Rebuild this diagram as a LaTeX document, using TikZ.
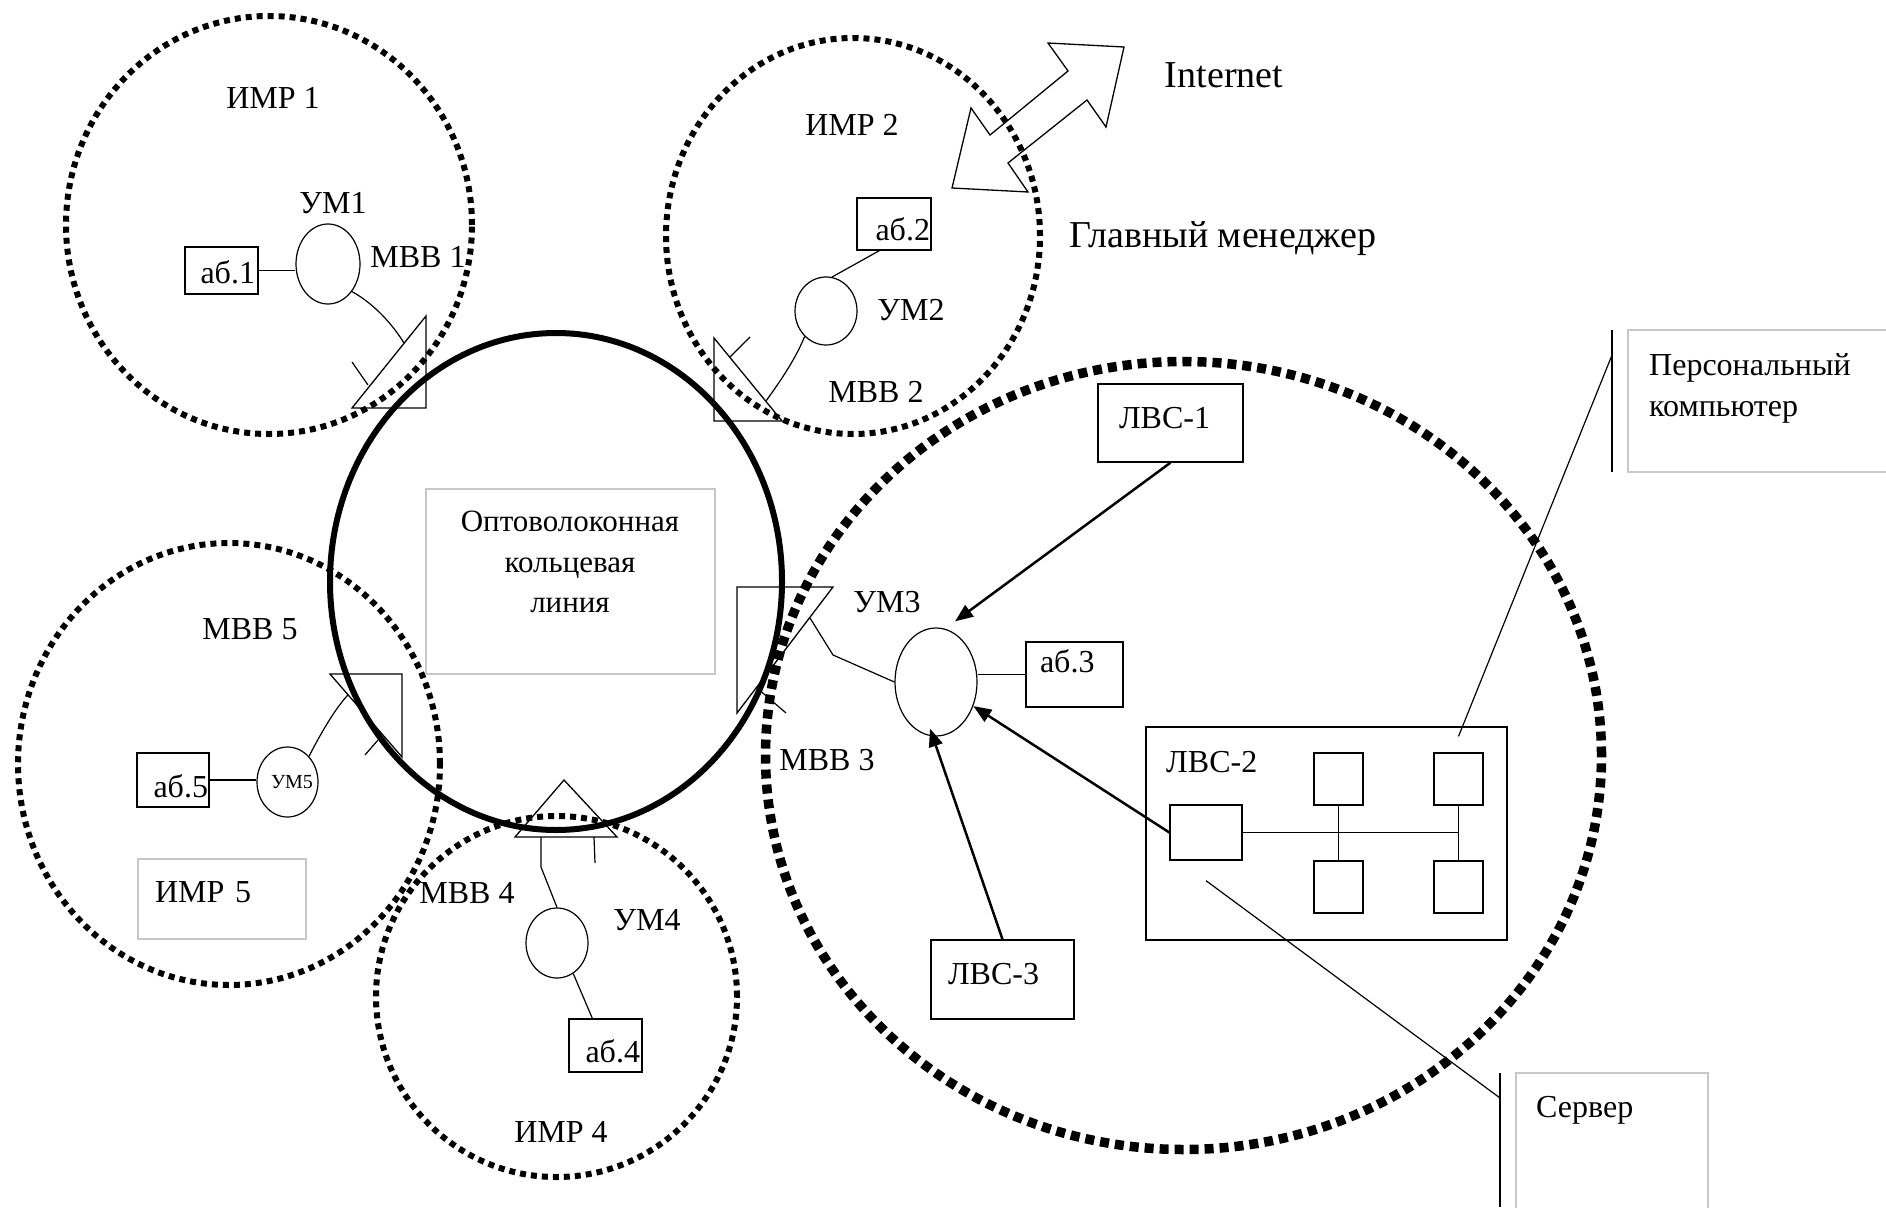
\documentclass[tikz,border=0pt]{standalone}
\usepackage{fontspec}
\setmainfont{Liberation Serif}
\usetikzlibrary{shapes.geometric,arrows.meta,calc}

\newcommand\lblsize{\fontsize{32}{40}\selectfont}

\begin{document}
\begin{tikzpicture}[x=1pt,y=-1pt,
  lbl/.style={font=\lblsize, inner sep=0pt, anchor=base},
  bigl/.style={font=\fontsize{38}{44}\selectfont, inner sep=0pt, anchor=base},
  zone/.style={draw, ellipse, inner sep=0pt, line width=6pt, dash pattern=on 6pt off 5pt},
  zonebig/.style={draw, ellipse, inner sep=0pt, line width=9.5pt, dash pattern=on 9pt off 6pt},
  ringline/.style={draw, ellipse, inner sep=0pt, line width=6pt},
  um/.style={draw, ellipse, inner sep=0pt, line width=1.2pt},
  abox/.style={draw, rectangle, line width=1.3pt, inner ysep=0pt, font=\lblsize},
  frame/.style={draw=black!22, line width=1.2pt, rectangle, inner sep=0pt},
  wire/.style={line width=1.2pt},
  mbb/.style={line width=1.3pt, line join=miter},
  arr/.style={line width=2.5pt, -{Triangle[length=18pt,width=14pt]}},
]
\useasboundingbox (0,0) rectangle (1886,1207);

% service zones
\node[zone, minimum width=406pt, minimum height=418pt] (imr1) at (269,225) {};
\node[zone, minimum width=374pt, minimum height=396pt] (imr2) at (853,236) {};
\node[zonebig, minimum width=836pt, minimum height=788pt] (imr3) at (1183.5,755.5) {};
\node[zone, minimum width=361pt, minimum height=361pt] (imr4) at (556.5,996.5) {};
\node[zone, minimum width=422pt, minimum height=442pt] (imr5) at (229,764) {};

% fibre ring
\node[ringline, minimum width=452pt, minimum height=497pt] (ring) at (556,581.5) {};
\node[frame, minimum width=289pt, minimum height=185pt] (ringbox) at (570.5,581.5) {};
\node[font=\fontsize{31}{40.5}\selectfont, align=center, anchor=north, inner sep=0pt]
  (ringtxt) at (570,511) {Оптоволоконная\\кольцевая\\линия};

% input/output units (triangles) and their connection points
\draw[mbb] (352,408) -- (426,316) -- (426,408) -- cycle;
\draw[mbb] (714,338) -- (714,421) -- (782,421) -- cycle;
\draw[mbb] (737,587) -- (833,587) -- (737,713) -- cycle;
\draw[mbb] (564,780) -- (515,837) -- (617,837) -- cycle;
\draw[mbb] (330,674) -- (402,674) -- (402,757) -- cycle;
\coordinate (m1c) at (404,343);
\coordinate (m2c) at (766,401);
\coordinate (m3c) at (810,618);
\coordinate (m3k) at (833,655);
\coordinate (m4c) at (541,837);
\coordinate (m4k) at (541,867);
\coordinate (m5c) at (348,695);

% ticks on the units
\draw[wire] (352,362) -- (368,385);
\draw[wire] (730,357) -- (750,337);
\draw[wire] (757,688) -- (786,713);
\draw[wire] (594,837) -- (595,863);
\draw[wire] (365,755) -- (378,740);

% multiplexers
\node[um, minimum width=64pt, minimum height=80pt] (um1) at (328,264) {};
\node[um, minimum width=62pt, minimum height=68pt] (um2) at (826,311) {};
\node[um, minimum width=82pt, minimum height=108pt] (um3) at (936,682) {};
\node[um, minimum width=62pt, minimum height=70pt] (um4) at (557,943) {};
\node[um, minimum width=61pt, minimum height=70pt, font=\fontsize{20}{24}\selectfont]
  (um5) at (287.5,782) {\makebox[42pt][l]{\hspace{4.5pt}УМ5}};

% subscriber boxes
\node[abox, minimum width=73pt, minimum height=47pt, inner xsep=3pt, text width=67pt,
  align=right, text height=25pt, text depth=0pt] (ab1) at (221.5,270.5) {аб.1};
\node[abox, minimum width=74pt, minimum height=52pt, inner xsep=1pt, text width=72pt,
  align=right, text height=32pt, text depth=0pt] (ab2) at (894,224) {аб.2};
\node[abox, minimum width=97pt, minimum height=65pt, inner xsep=14pt, text width=69pt,
  align=left, text height=22pt, text depth=27pt] (ab3) at (1074.5,674.5) {аб.3};
\node[abox, minimum width=73pt, minimum height=53pt, inner xsep=2pt, text width=69pt,
  align=right, text height=33pt, text depth=0pt] (ab4) at (605.5,1045.5) {аб.4};
\node[abox, minimum width=72pt, minimum height=54pt, inner xsep=1pt, text width=70pt,
  align=right, text height=34pt, text depth=0pt] (ab5) at (173,780) {аб.5};

% local networks
\node[abox, minimum width=145pt, minimum height=78pt, inner xsep=21pt, text width=103pt,
  align=left, text height=10pt, text depth=0pt] (lvs1) at (1170.5,423) {ЛВС-1};
\node[abox, minimum width=143pt, minimum height=79pt, inner xsep=17pt, text width=109pt,
  align=left, text height=9pt, text depth=0pt] (lvs3) at (1002.5,979.5) {ЛВС-3};
\node[abox, minimum width=361pt, minimum height=213pt] (lvs2) at (1326.5,833.5) {};
\node[lbl, anchor=base west] (lvs2lbl) at (1166,772) {ЛВС-2};
\node[abox, minimum width=72pt, minimum height=55pt] (sq0) at (1206,832.5) {};
\node[abox, minimum width=49pt, minimum height=52pt] (sq1) at (1338.5,779) {};
\node[abox, minimum width=49pt, minimum height=52pt] (sq2) at (1338.5,887) {};
\node[abox, minimum width=49pt, minimum height=52pt] (sq3) at (1458.5,779) {};
\node[abox, minimum width=49pt, minimum height=52pt] (sq4) at (1458.5,887) {};
\draw[wire] (sq0.east) -- (sq0.east -| sq3.south);
\draw[wire] (sq1.south) -- (sq2.north);
\draw[wire] (sq3.south) -- (sq4.north);

% links
\draw[wire] (ab1.east) -- (ab1.east -| um1.west);
\draw[wire] (um1.-49) .. controls +(25,14) and +(-10,-16) .. (m1c);
\draw[wire] ([xshift=23pt]ab2.south west) -- (um2.80);
\draw[wire] (um2.-130) .. controls +(-10,25) and +(10,-14) .. (m2c);
\draw[wire] (um3.west) -- (m3k) -- (m3c);
\draw[wire] (ab3.west) -- (ab3.west -| um3.east);
\draw[wire] (m4c) -- (m4k) -- (um4.north);
\draw[wire] (um4.-62) -- ([xshift=24pt]ab4.north west);
\draw[wire] (um5.50) .. controls +(10,-20) and +(-12,12) .. (m5c);
\draw[wire] (ab5.east) -- (ab5.east -| um5.west);

% LAN arrows into the main multiplexer
\draw[arr] (lvs1.south) -- ([shift={(19,-6)}]um3.north);
\draw[arr] (lvs3.north) -- ([shift={(-6,-8)}]um3.south);
\draw[arr] (sq0.west) -- (um3);

% Internet double arrow
\draw[mbb] (1048,43) -- (1124,47) -- (1106,127) -- (1087,100) -- (1008,163)
  -- (1028,192) -- (952,188) -- (971,108) -- (990,135) -- (1068,71) -- cycle;

% labels
\node[lbl] (limr1) at (273,108) {ИМР 1};
\node[lbl] (lum1) at (333,213) {УМ1};
\node[lbl] (lmbb1) at (418,267) {МВВ 1};
\node[lbl] (limr2) at (852,135) {ИМР 2};
\node[lbl] (lum2) at (911,320) {УМ2};
\node[lbl] (lmbb2) at (876,402) {МВВ 2};
\node[bigl] (linet) at (1224,88) {Internet};
\node[bigl] (lmgr) at (1223,247) {Главный менеджер};
\node[lbl] (lum3) at (887,612) {УМ3};
\node[lbl] (lmbb3) at (827,770) {МВВ 3};
\node[lbl] (lmbb5) at (250,639) {МВВ 5};
\node[lbl] (lmbb4) at (467,903) {МВВ 4};
\node[lbl] (lum4) at (647,930) {УМ4};
\node[lbl] (limr4) at (561,1142) {ИМР 4};
\node[frame, minimum width=168pt, minimum height=80pt, inner xsep=17pt, text width=134pt,
  align=left, text height=6pt, text depth=0pt, font=\lblsize] (limr5) at (222,899) {ИМР 5};

% callouts
\coordinate (pctop) at (1612,330);
\coordinate (pcbot) at (1612,472);
\coordinate (pcbar) at (1612,355);
\draw[wire] (pctop) -- (pcbot);
\node[frame, minimum width=267pt, minimum height=142pt] (pcbox) at (1761.5,401) {};
\node[font=\fontsize{32}{41}\selectfont, align=left, anchor=north west, inner sep=0pt]
  (pctxt) at (1649,353) {Персональный\\компьютер};
\draw[wire] (pcbar) -- ([yshift=16pt]sq3.north);

\coordinate (srvtop) at (1500,1073);
\coordinate (srvbot) at (1500,1207);
\coordinate (srvbar) at (1500,1098);
\draw[wire] (srvtop) -- (srvbot);
\node[frame, minimum width=192pt, minimum height=142pt] (srvbox) at (1612,1144) {};
\node[lbl, anchor=base west] (srvtxt) at (1536,1117) {Сервер};
\draw[wire] ([yshift=-20pt]sq0.south) -- (srvbar);
\end{tikzpicture}
\end{document}
